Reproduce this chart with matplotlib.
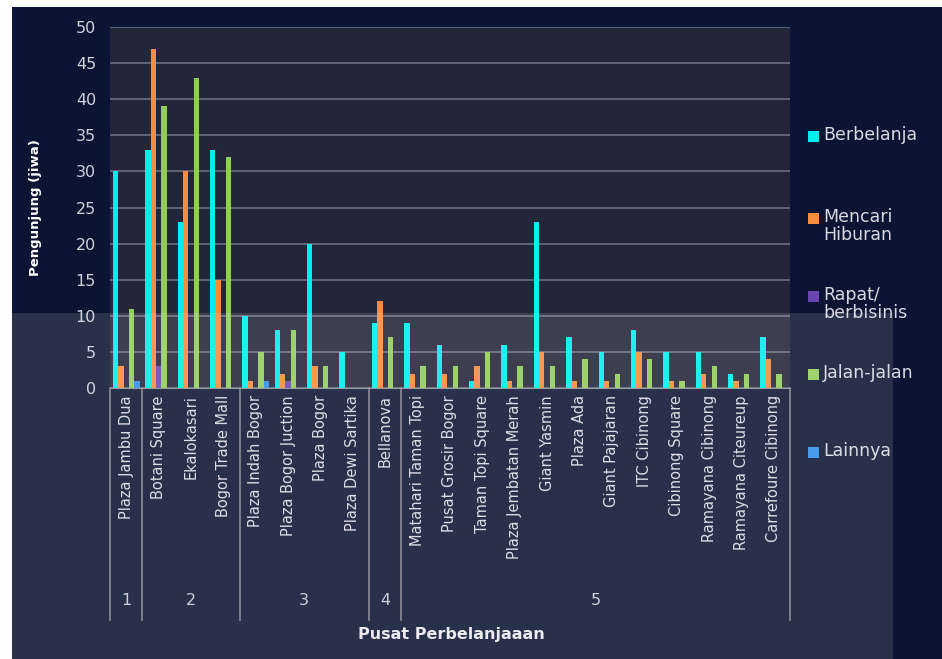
import numpy as np
import matplotlib.pyplot as plt
from matplotlib.patches import Rectangle

# data
malls = ['Plaza Jambu Dua', 'Botani Square', 'Ekalokasari', 'Bogor Trade Mall',
         'Plaza Indah Bogor', 'Plaza Bogor Juction', 'Plaza Bogor', 'Plaza Dewi Sartika',
         'Bellanova', 'Matahari Taman Topi', 'Pusat Grosir Bogor', 'Taman Topi Square',
         'Plaza Jembatan Merah', 'Giant Yasmin', 'Plaza Ada', 'Giant Pajajaran',
         'ITC Cibinong', 'Cibinong Square', 'Ramayana Cibinong', 'Ramayana Citeureup',
         'Carrefoure Cibinong']
berbelanja = [30, 33, 23, 33, 10, 8, 20, 5, 9, 9, 6, 1, 6, 23, 7, 5, 8, 5, 5, 2, 7]
hiburan    = [3, 47, 30, 15, 1, 2, 3, 0, 12, 2, 2, 3, 1, 5, 1, 1, 5, 1, 2, 1, 4]
rapat      = [0, 3, 0, 0, 0, 1, 0, 0, 0, 0, 0, 0, 0, 0, 0, 0, 0, 0, 0, 0, 0]
jalan      = [11, 39, 43, 32, 5, 8, 3, 0, 7, 3, 3, 5, 3, 3, 4, 2, 4, 1, 3, 2, 2]
lainnya    = [1, 0, 0, 0, 1, 0, 0, 0, 0, 0, 0, 0, 0, 0, 0, 0, 0, 0, 0, 0, 0]

group_names = ['1', '2', '3', '4', '5']
group_edges = [-0.5, 0.5, 3.5, 7.5, 8.5, 20.5]

series = [
    ('Berbelanja', berbelanja, '#00eeee'),
    ('Mencari\nHiburan', hiburan, '#f68c3c'),
    ('Rapat/\nberbisinis', rapat, '#6a46b0'),
    ('Jalan-jalan', jalan, '#90cc5c'),
    ('Lainnya', lainnya, '#2e8fe6'),
]

W, H = 942, 659
fig = plt.figure(figsize=(W / 100, H / 100), dpi=100, facecolor='white')

# dark slide background
fig.add_artist(Rectangle((12 / W, 0), 1, 1 - 7 / H, transform=fig.transFigure,
                         facecolor='#0b1432', edgecolor='none', zorder=-10))

ax = fig.add_axes([110 / W, (H - 388) / H, 680 / W, 361 / H])
ax.set_facecolor('#232539')

x = np.arange(len(malls))
bw = 0.165
for i, (name, vals, col) in enumerate(series):
    ax.bar(x + (i - 2) * bw, vals, width=bw, color=col, zorder=3)

ax.set_xlim(-0.5, len(malls) - 0.5)
ax.set_ylim(0, 50)
ax.set_yticks(range(0, 51, 5))
ax.grid(axis='y', color='#6c6f80', lw=1.2, zorder=1)
for s in ['top', 'right', 'left']:
    ax.spines[s].set_visible(False)
ax.spines['bottom'].set_color('#8a8c98')
ax.tick_params(axis='y', colors='#d0d2dc', labelsize=11.5, length=0, pad=10)
ax.set_xticks([])

# category labels and group separators below the axis
for i, m in enumerate(malls):
    ax.text(i, -0.02, m, transform=ax.get_xaxis_transform(), rotation=90,
            ha='center', va='top', color='#d8dae2', fontsize=10.5,
            family=['Liberation Sans Narrow', 'DejaVu Sans'])
for e in group_edges:
    ax.plot([e, e], [0, -0.643], transform=ax.get_xaxis_transform(),
            color='#7a7c88', lw=1.2, clip_on=False)
for k, g in enumerate(group_names):
    xc = (group_edges[k] + group_edges[k + 1]) / 2
    ax.text(xc, -0.59, g, transform=ax.get_xaxis_transform(), ha='center',
            va='center', color='#c8cad4', fontsize=11.5)

fig.text(36 / W, 1 - 208 / H, 'Pengunjung (jiwa)', rotation=90, ha='center',
         va='center', color='white', fontsize=9.5, fontweight='bold',
         family=['Liberation Sans Narrow', 'DejaVu Sans'])
fig.text(451 / W, 1 - 635 / H, 'Pusat Perbelanjaaan', ha='center', va='center',
         color='#e8e8ee', fontsize=11.5, fontweight='bold')

# legend, drawn by hand to keep the uneven spacing
leg_y = [136, 218, 296, 374, 452]
for (name, vals, col), yy in zip(series, leg_y):
    fig.add_artist(Rectangle((808 / W, 1 - (yy + 6) / H), 11 / W, 11 / H,
                             transform=fig.transFigure, facecolor=col, edgecolor='none'))
    fig.text(823 / W, 1 - (yy - 10) / H, name, ha='left', va='top', color='#d8dae2',
             fontsize=12.5, linespacing=1.0)

# washed out lower band of the slide
fig.add_artist(Rectangle((12 / W, 0), 881 / W, 1 - 313 / H, transform=fig.transFigure,
                         facecolor='white', alpha=0.12, edgecolor='none', zorder=5))

fig.savefig('out.png', dpi=100, facecolor=fig.get_facecolor())
